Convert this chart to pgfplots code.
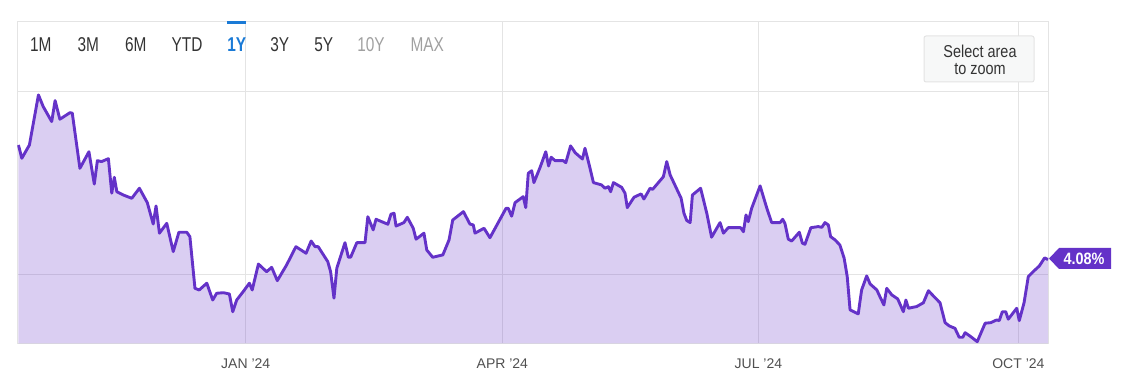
\documentclass[border=0pt]{standalone}
\usepackage{fontspec}
\setmainfont{Liberation Sans}
\usepackage{graphicx}
\usepackage{pgfplots}
\usepackage{pgfplotstable}
\pgfplotsset{compat=1.18}
\definecolor{linecol}{RGB}{100,50,200}
\definecolor{gridcol}{RGB}{228,228,228}
\definecolor{tabtxt}{RGB}{51,51,51}
\definecolor{tabgray}{RGB}{160,160,160}
\definecolor{tabblue}{RGB}{26,122,214}
\definecolor{lbl}{RGB}{80,80,80}
\definecolor{btnfill}{RGB}{247,248,248}

\pgfplotstableread{
d v
-80.6 4.708
-79.4 4.635
-76.7 4.708
-73.5 4.982
-71.8 4.918
-68.8 4.836
-67.6 4.951
-65.9 4.849
-62.3 4.885
-61.5 4.882
-58.8 4.580
-55.6 4.671
-53.7 4.494
-52.6 4.622
-51.1 4.617
-48.7 4.633
-47.5 4.444
-46.6 4.531
-45.7 4.452
-43.4 4.434
-40.4 4.416
-37.7 4.471
-34.9 4.392
-32.8 4.275
-31.8 4.374
-30.6 4.225
-28.0 4.279
-25.7 4.124
-23.7 4.230
-20.9 4.230
-19.8 4.206
-18.0 3.923
-16.5 3.914
-13.8 3.951
-11.7 3.859
-10.3 3.896
-7.9 3.899
-5.8 3.892
-4.6 3.795
-3.2 3.859
-0.9 3.905
1.3 3.951
2.3 3.914
4.5 4.056
7.4 4.014
9.2 4.038
11.2 3.965
14.5 4.051
17.8 4.151
21.4 4.115
23.2 4.182
24.6 4.151
25.7 4.151
29.1 4.069
30.1 4.014
31.3 3.869
32.3 4.033
35.2 4.173
36.4 4.093
37.2 4.093
39.4 4.173
42.3 4.173
43.3 4.315
45.2 4.243
46.2 4.301
50.4 4.274
51.5 4.329
52.6 4.334
53.3 4.264
56.1 4.283
57.3 4.312
59.4 4.252
60.4 4.192
63.2 4.225
64.2 4.133
66.3 4.093
69.9 4.106
72.1 4.188
73.4 4.297
77.2 4.343
79.5 4.275
80.7 4.270
81.3 4.225
84.5 4.252
86.6 4.200
92.3 4.361
93.1 4.361
94.3 4.318
95.5 4.392
98.4 4.425
99.3 4.365
100.2 4.553
101.4 4.567
102.2 4.502
104.4 4.586
106.4 4.671
107.4 4.593
108.3 4.641
109.7 4.622
112.6 4.622
113.5 4.611
115.2 4.703
116.8 4.666
119.4 4.631
120.3 4.690
121.8 4.599
123.3 4.502
126.2 4.489
127.4 4.471
128.6 4.480
129.4 4.452
130.4 4.502
133.3 4.476
134.5 4.444
135.3 4.365
137.7 4.422
140.2 4.440
141.2 4.412
143.4 4.471
144.3 4.465
148.1 4.534
149.3 4.617
150.5 4.544
154.4 4.416
155.4 4.334
156.4 4.294
157.6 4.283
158.4 4.434
161.3 4.471
163.5 4.334
165.2 4.203
168.2 4.283
169.4 4.225
171.1 4.255
175.5 4.255
176.5 4.233
177.4 4.325
178.2 4.288
179.4 4.361
182.4 4.484
184.8 4.361
186.5 4.283
189.5 4.283
190.4 4.301
191.2 4.279
192.4 4.192
193.6 4.182
196.3 4.230
197.4 4.170
198.3 4.164
200.4 4.255
203.0 4.261
204.3 4.257
205.4 4.283
206.6 4.270
207.4 4.206
209.0 4.188
210.7 4.160
212.2 4.088
213.3 3.987
214.3 3.805
217.2 3.783
218.4 3.914
220.2 3.991
221.4 3.947
223.8 3.914
224.9 3.877
226.3 3.832
227.3 3.923
229.1 3.887
231.2 3.865
233.2 3.795
234.1 3.859
235.0 3.814
237.9 3.823
240.3 3.844
242.1 3.910
244.1 3.877
246.2 3.844
248.0 3.735
249.5 3.717
251.5 3.704
253.0 3.655
254.3 3.655
255.1 3.680
256.8 3.662
259.4 3.631
262.2 3.732
264.2 3.735
266.3 3.750
267.2 3.746
268.3 3.795
269.5 3.795
270.4 3.754
273.4 3.814
274.3 3.746
276.0 3.844
277.5 3.987
279.9 4.024
281.4 4.045
283.3 4.090
284.5 4.080
}\datatable

\begin{document}
\begin{tikzpicture}
\useasboundingbox (0,0) rectangle (572pt,187.5pt);
\begin{axis}[
  at={(8.65pt,15.85pt)}, anchor=south west,
  scale only axis, width=515.5pt, height=160.8pt,
  xmin=-81.0, xmax=284.6, ymin=3.622, ymax=5.383,
  xtick={0,91,181.8,274},
  xticklabels={JAN '24, APR '24, JUL '24, OCT '24},
  ytick={4,5}, yticklabels={},
  grid=major, major grid style={draw=gridcol, line width=0.5pt},
  axis line style={draw=gridcol, line width=0.5pt},
  major tick length=0pt,
  xticklabel style={font=\fontsize{7}{8}\selectfont, text=lbl, anchor=north, inner sep=0pt, yshift=-7.5pt},
]
\addplot[draw=none, fill=linecol, fill opacity=0.24] table[x=d,y=v] {\datatable} \closedcycle;
\addplot[draw=linecol, line width=1.45pt, line join=round] table[x=d,y=v] {\datatable};
\end{axis}
% range tabs
\begin{scope}[every node/.style={anchor=base, inner sep=0pt, font=\fontsize{10}{12}\selectfont}]
\node[text=tabtxt] at (20.4pt,161.65pt) {\scalebox{0.77}[1]{1M}};
\node[text=tabtxt] at (44.15pt,161.65pt) {\scalebox{0.77}[1]{3M}};
\node[text=tabtxt] at (67.9pt,161.65pt) {\scalebox{0.77}[1]{6M}};
\node[text=tabtxt] at (93.5pt,161.65pt) {\scalebox{0.77}[1]{YTD}};
\node[text=tabblue] at (118.4pt,161.65pt) {\scalebox{0.77}[1]{\bfseries 1Y}};
\node[text=tabtxt] at (139.85pt,161.65pt) {\scalebox{0.77}[1]{3Y}};
\node[text=tabtxt] at (161.85pt,161.65pt) {\scalebox{0.77}[1]{5Y}};
\node[text=tabgray] at (185.5pt,161.65pt) {\scalebox{0.77}[1]{10Y}};
\node[text=tabgray] at (213.6pt,161.65pt) {\scalebox{0.77}[1]{MAX}};
\end{scope}
\fill[tabblue] (113.35pt,175.35pt) rectangle (123pt,177pt);
% select area button
\draw[draw=gridcol, fill=btnfill, line width=0.5pt, rounded corners=1pt] (462pt,146.5pt) rectangle (517pt,169.5pt);
\node[anchor=base, inner sep=0pt, text=tabtxt, font=\fontsize{8.6}{10}\selectfont] at (490pt,158.85pt) {\scalebox{0.84}[1]{Select area}};
\node[anchor=base, inner sep=0pt, text=tabtxt, font=\fontsize{8.6}{10}\selectfont] at (490pt,150pt) {\scalebox{0.84}[1]{to zoom}};
% last value callout
\fill[linecol] (524.5pt,58.25pt) -- (529.5pt,63.5pt) -- (555.5pt,63.5pt) -- (555.5pt,53pt) -- (529.5pt,53pt) -- cycle;
\node[anchor=base, inner sep=0pt, text=white, font=\bfseries\fontsize{8.2}{9}\selectfont] at (542pt,55.3pt) {\scalebox{0.88}[1]{4.08\%}};
\end{tikzpicture}
\end{document}
